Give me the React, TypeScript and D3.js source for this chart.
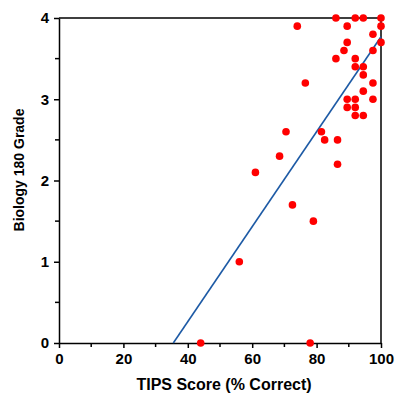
import React, { useEffect, useRef } from 'react';
import * as d3 from 'd3';

// TIPS score (% correct) vs Biology 180 grade
const tipsScores = [
  86, 92, 94.5, 100, 74, 89.5, 100, 97.5, 89.5, 100,
  88.5, 97.5, 86, 92, 92, 94.5, 94.5, 76.5, 97.5, 94.5,
  89.5, 92, 97.5, 89.5, 92, 92, 94.5, 70.5, 81.5, 82.5,
  86.5, 68.5, 86.5, 61, 72.5, 79, 56, 44, 78,
];
const grades = [
  4, 4, 4, 4, 3.9, 3.9, 3.9, 3.8, 3.7, 3.7,
  3.6, 3.6, 3.5, 3.5, 3.4, 3.4, 3.3, 3.2, 3.2, 3.1,
  3, 3, 3, 2.9, 2.9, 2.8, 2.8, 2.6, 2.6, 2.5,
  2.5, 2.3, 2.2, 2.1, 1.7, 1.5, 1, 0, 0,
];

// fitted line endpoints
const fitX = [35.5, 100];
const fitY = [0, 3.77];

const xTicks = [0, 20, 40, 60, 80, 100];
const xMinor = [10, 30, 50, 70, 90];
const yTicks = [0, 1, 2, 3, 4];
const yMinor = [0.5, 1.5, 2.5, 3.5];

const W = 397;
const H = 394;
const margin = { top: 18, right: 16, bottom: 51, left: 59 };
const FONT = '"Liberation Sans", Arial, sans-serif';

const App = () => {
  const svgRef = useRef<SVGSVGElement>(null);

  useEffect(() => {
    const svg = d3.select(svgRef.current);
    svg.selectAll('*').remove();

    const x = d3.scaleLinear().domain([0, 100]).range([margin.left, W - margin.right]);
    const y = d3.scaleLinear().domain([0, 4]).range([H - margin.bottom, margin.top]);

    // frame: top and right
    svg.append('path')
      .attr('d', `M${x(0)},${y(4)}H${x(100)}V${y(0)}`)
      .attr('fill', 'none')
      .attr('stroke', '#000')
      .attr('stroke-width', 1.5);

    // x axis
    const gx = svg.append('g').attr('transform', `translate(0,${y(0)})`);
    gx.call(d3.axisBottom(x).tickValues(xTicks).tickSize(5).tickSizeOuter(0).tickPadding(5))
      .call(g => g.select('.domain').attr('stroke-width', 1.5))
      .call(g => g.selectAll('line').attr('stroke-width', 1.5))
      .call(g => g.selectAll('text')
        .style('font-family', FONT)
        .style('font-size', '15px')
        .style('font-weight', 'bold')
        .attr('fill', '#000'));
    gx.selectAll('.minor')
      .data(xMinor)
      .join('line')
        .attr('x1', d => x(d)).attr('x2', d => x(d))
        .attr('y1', 0).attr('y2', 4)
        .attr('stroke', '#000')
        .attr('stroke-width', 1.5);

    // y axis
    const gy = svg.append('g').attr('transform', `translate(${x(0)},0)`);
    gy.call(d3.axisLeft(y).tickValues(yTicks).tickFormat(d3.format('d')).tickSize(5).tickSizeOuter(0).tickPadding(5))
      .call(g => g.select('.domain').attr('stroke-width', 1.5))
      .call(g => g.selectAll('line').attr('stroke-width', 1.5))
      .call(g => g.selectAll('text')
        .style('font-family', FONT)
        .style('font-size', '15px')
        .style('font-weight', 'bold')
        .attr('fill', '#000'));
    gy.selectAll('.minor')
      .data(yMinor)
      .join('line')
        .attr('y1', d => y(d)).attr('y2', d => y(d))
        .attr('x1', 0).attr('x2', -4)
        .attr('stroke', '#000')
        .attr('stroke-width', 1.5);

    // fit line
    const line = d3.line<number>()
      .x((d, i) => x(fitX[i]))
      .y(d => y(d));
    svg.append('path')
      .datum(fitY)
      .attr('d', line)
      .attr('fill', 'none')
      .attr('stroke', '#1d5aa5')
      .attr('stroke-width', 1.6);

    // points
    svg.append('g')
      .selectAll('circle')
      .data(tipsScores)
      .join('circle')
        .attr('cx', d => x(d))
        .attr('cy', (d, i) => y(grades[i]))
        .attr('r', 3.8)
        .attr('fill', '#ff0000');

    // axis titles
    svg.append('text')
      .attr('x', 224)
      .attr('y', 390)
      .attr('text-anchor', 'middle')
      .style('font-family', FONT)
      .style('font-size', '16px')
      .style('font-weight', 'bold')
      .text('TIPS Score (% Correct)');

    svg.append('text')
      .attr('transform', `translate(24,170) rotate(-90)`)
      .attr('text-anchor', 'middle')
      .style('font-family', FONT)
      .style('font-size', '14px')
      .style('font-weight', 'bold')
      .text('Biology 180 Grade');
  }, []);

  return (
    <svg
      ref={svgRef}
      width={W}
      height={H}
      style={{ position: 'absolute', left: 0, top: 0, background: '#fff' }}
    />
  );
};

export default App;
